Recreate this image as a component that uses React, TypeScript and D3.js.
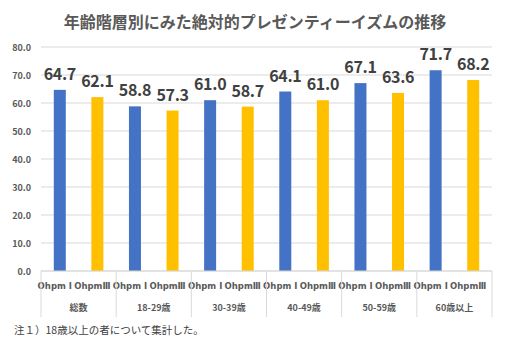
import React from "react";
import * as d3 from "d3";

const title = "年齢階層別にみた絶対的プレゼンティーイズムの推移";
const groups = ["総数", "18-29歳", "30-39歳", "40-49歳", "50-59歳", "60歳以上"];
const subLabels = ["Ohpm Ⅰ", "OhpmⅢ"];
const ohpm1 = [64.7, 58.8, 61.0, 64.1, 67.1, 71.7];
const ohpm3 = [62.1, 57.3, 58.7, 61.0, 63.6, 68.2];
const yTicks = [0, 10, 20, 30, 40, 50, 60, 70, 80];
const footnote = "注１）18歳以上の者について集計した。";
const colors = ["#4472C4", "#FFC000"];

const W = 505, H = 344;
const left = 41, right = 492, top = 47, bottom = 271;
const font = "'Noto Sans CJK JP', 'Noto Sans', sans-serif";
const latin = "'DejaVu Sans', 'Noto Sans', sans-serif";

export default function App() {
  const x0 = d3.scaleBand<string>().domain(groups).range([left, right]).paddingInner(0).paddingOuter(0);
  const x1 = d3.scaleBand<string>().domain(subLabels).range([0, x0.bandwidth()]);
  const y = d3.scaleLinear().domain([0, 80]).range([bottom, top]);
  const barW = 12;
  const series = [ohpm1, ohpm3];

  return (
    <svg width={W} height={H} style={{ position: "absolute", left: 0, top: 0, background: "#fff" }}>
      <text x={255} y={28} textAnchor="middle" fontFamily={font} fontWeight="bold" fontSize={16} fill="#595959">{title}</text>
      {yTicks.map((t) => (
        <g key={t}>
          <line x1={left} x2={right} y1={y(t)} y2={y(t)} stroke="#d9d9d9" strokeWidth={1} />
          <text x={31} y={y(t) + 3.5} textAnchor="end" fontFamily={font} fontWeight="bold" fontSize={9} fill="#595959">{t.toFixed(1)}</text>
        </g>
      ))}
      {groups.map((g, gi) =>
        subLabels.map((s, si) => {
          const v = series[si][gi];
          const cx = (x0(g) as number) + (x1(s) as number) + x1.bandwidth() / 2;
          return (
            <g key={g + s}>
              <rect x={cx - barW / 2} y={y(v)} width={barW} height={y(0) - y(v)} fill={colors[si]} />
              <text x={cx} y={y(v) - 10} textAnchor="middle" fontFamily={font} fontWeight="bold" fontSize={16} letterSpacing={-0.3} fill="#404040">{v.toFixed(1)}</text>
              <text x={cx - 5} y={289} textAnchor="middle" fontFamily={latin} fontWeight="bold" fontSize={8.5} fill="#595959">{s}</text>
            </g>
          );
        })
      )}
      <line x1={left} x2={right} y1={bottom} y2={bottom} stroke="#d9d9d9" strokeWidth={1} />
      {groups.map((g) => (
        <text key={g} x={(x0(g) as number) + x0.bandwidth() / 2} y={311} textAnchor="middle" fontFamily={font} fontWeight="bold" fontSize={9} fill="#595959">{g}</text>
      ))}
      {[...groups.map((g) => x0(g) as number), right].map((bx, i) => (
        <line key={i} x1={bx} x2={bx} y1={bottom} y2={317} stroke="#d9d9d9" strokeWidth={1} />
      ))}
      <text x={14} y={334} fontFamily={font} fontSize={10.5} fill="#404040">{footnote}</text>
    </svg>
  );
}
